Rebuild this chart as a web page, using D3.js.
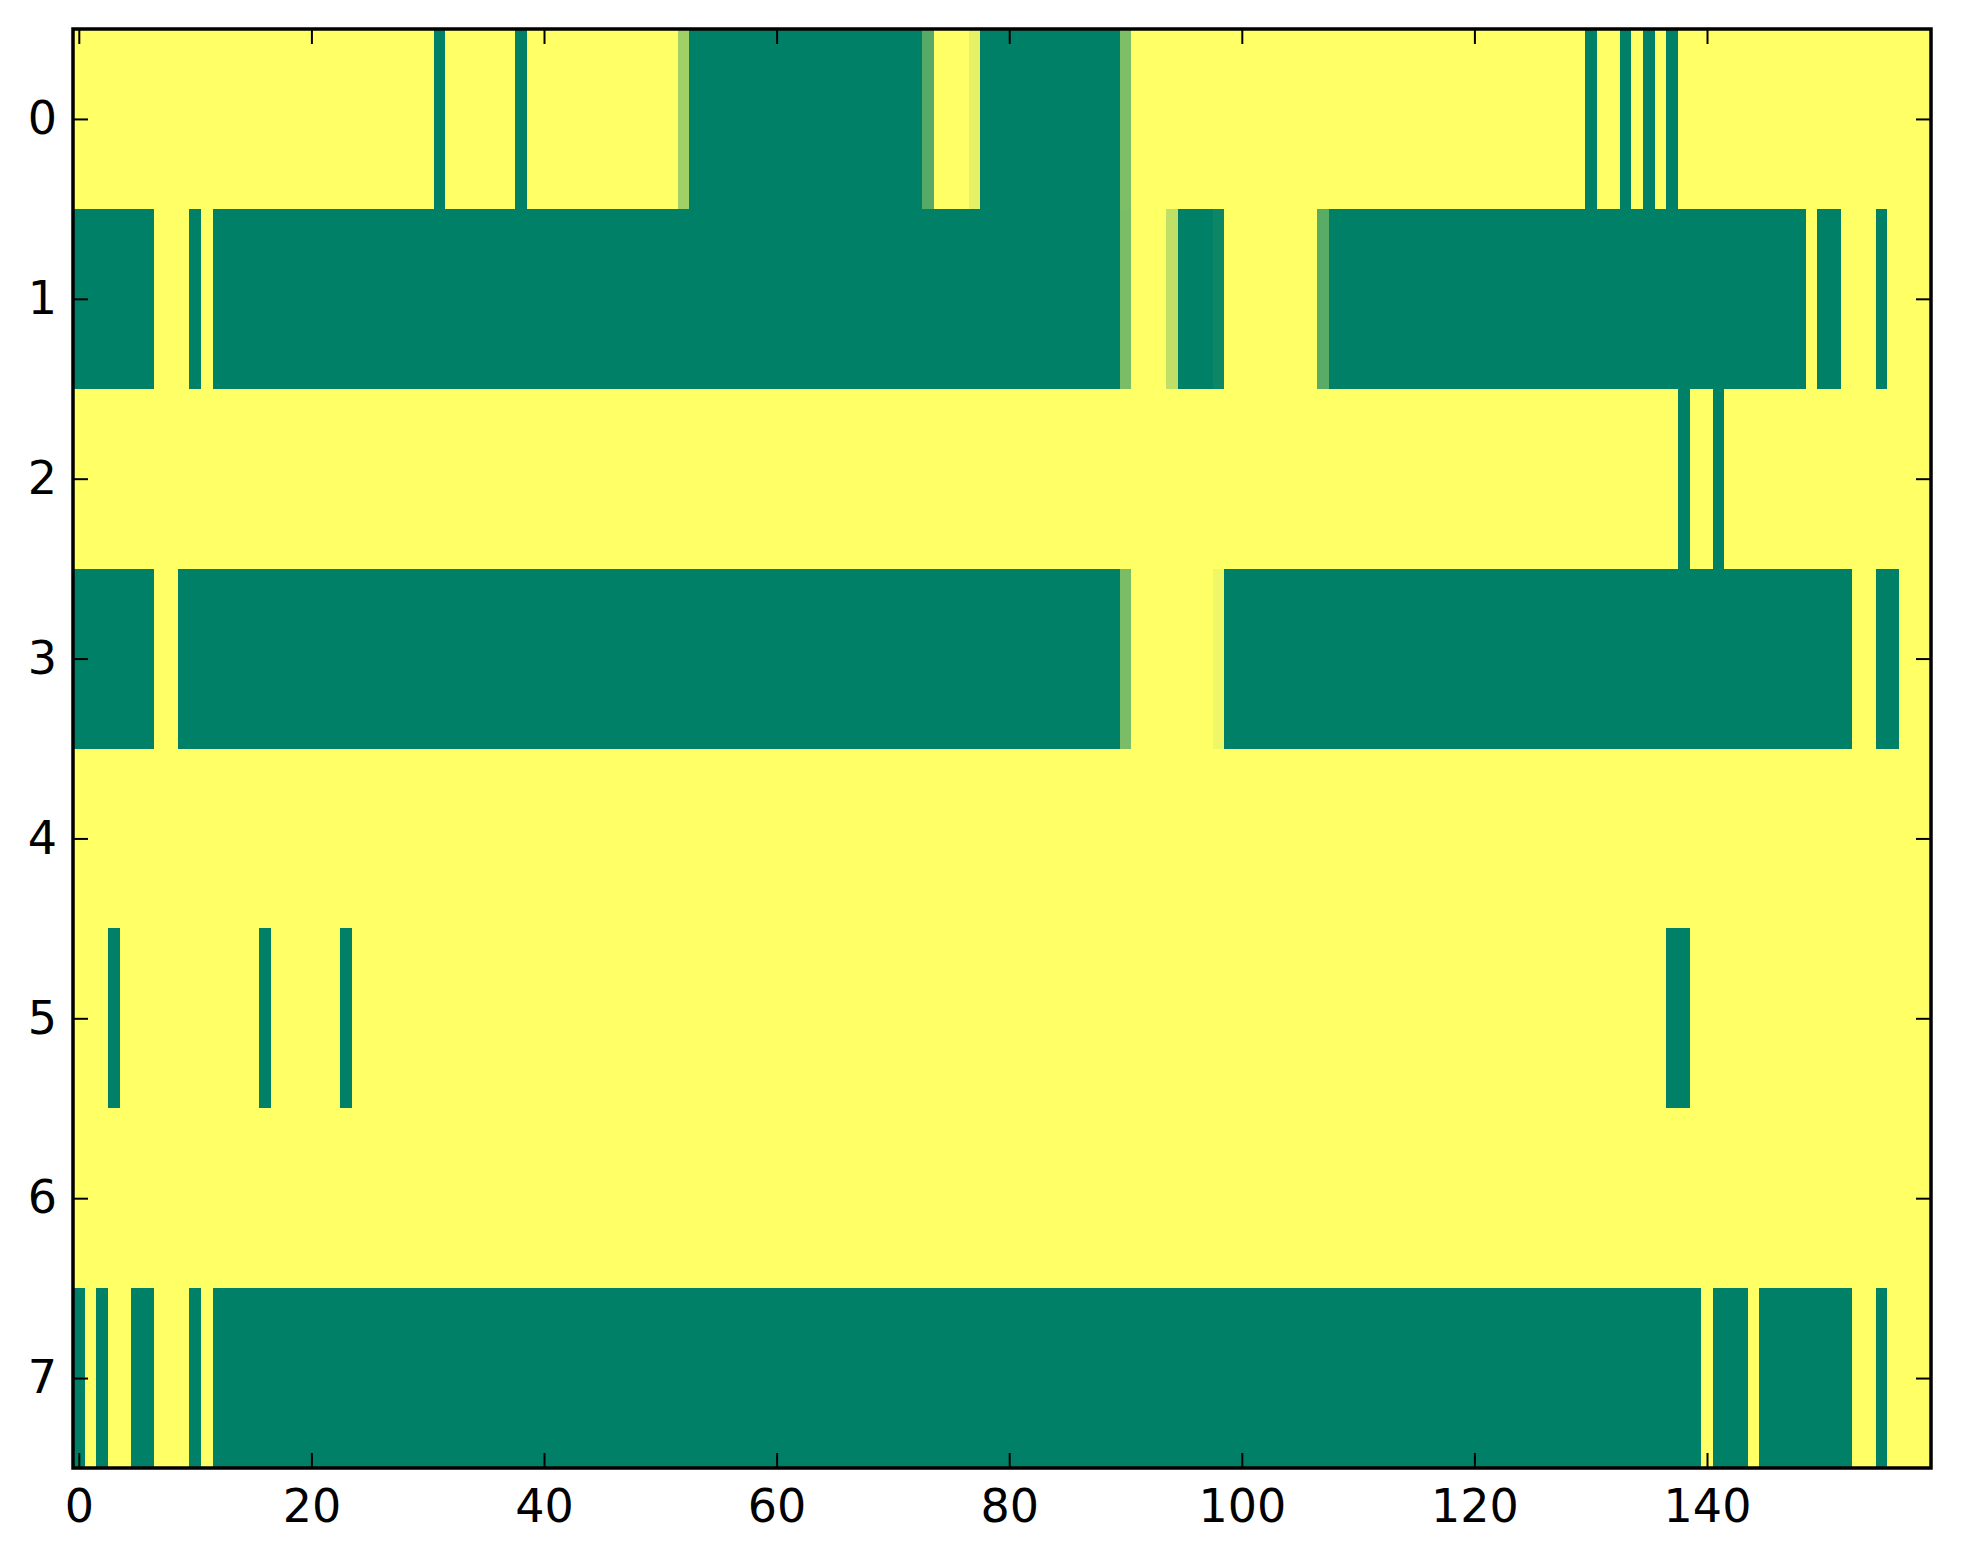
<!DOCTYPE html>
<html>
<head>
<meta charset="utf-8">
<script src="https://cdn.jsdelivr.net/npm/d3@7"></script>
<style>
  html, body { margin: 0; padding: 0; background: #fff; }
  svg { display: block; }
  .tick text { font-family: "DejaVu Sans", sans-serif; }
</style>
</head>
<body>
<svg id="chart" width="1963" height="1564"></svg>
<script>
// ---- Data ----
const rowLabels = [0, 1, 2, 3, 4, 5, 6, 7];
const xTickValues = [0, 20, 40, 60, 80, 100, 120, 140];

const row0 = [
  1,1,1,1,1,1,1,1,1,1,1,1,1,1,1,1,1,1,1,1,
  1,1,1,1,1,1,1,1,1,1,1,0,1,1,1,1,1,1,0,1,
  1,1,1,1,1,1,1,1,1,1,1,1,0.63,0,0,0,0,0,0,0,
  0,0,0,0,0,0,0,0,0,0,0,0,0,0.33,1,1,1,0.9,0,0,
  0,0,0,0,0,0,0,0,0,0,0.49,1,1,1,1,1,1,1,1,1,
  1,1,1,1,1,1,1,1,1,1,1,1,1,1,1,1,1,1,1,1,
  1,1,1,1,1,1,1,1,1,1,0,1,1,0,1,0,1,0,1,1,
  1,1,1,1,1,1,1,1,1,1,1,1,1,1,1,1,1,1,1,1
];
const row1 = [
  0,0,0,0,0,0,0,1,1,1,0,1,0,0,0,0,0,0,0,0,
  0,0,0,0,0,0,0,0,0,0,0,0,0,0,0,0,0,0,0,0,
  0,0,0,0,0,0,0,0,0,0,0,0,0,0,0,0,0,0,0,0,
  0,0,0,0,0,0,0,0,0,0,0,0,0,0,0,0,0,0,0,0,
  0,0,0,0,0,0,0,0,0,0,0.48,1,1,1,0.75,0,0,0,0.05,1,
  1,1,1,1,1,1,1,0.35,0,0,0,0,0,0,0,0,0,0,0,0,
  0,0,0,0,0,0,0,0,0,0,0,0,0,0,0,0,0,0,0,0,
  0,0,0,0,0,0,0,0,0,1,0,0,1,1,1,0,1,1,1,1
];
const row2 = [
  1,1,1,1,1,1,1,1,1,1,1,1,1,1,1,1,1,1,1,1,
  1,1,1,1,1,1,1,1,1,1,1,1,1,1,1,1,1,1,1,1,
  1,1,1,1,1,1,1,1,1,1,1,1,1,1,1,1,1,1,1,1,
  1,1,1,1,1,1,1,1,1,1,1,1,1,1,1,1,1,1,1,1,
  1,1,1,1,1,1,1,1,1,1,1,1,1,1,1,1,1,1,1,1,
  1,1,1,1,1,1,1,1,1,1,1,1,1,1,1,1,1,1,1,1,
  1,1,1,1,1,1,1,1,1,1,1,1,1,1,1,1,1,1,0,1,
  1,0,1,1,1,1,1,1,1,1,1,1,1,1,1,1,1,1,1,1
];
const row3 = [
  0,0,0,0,0,0,0,1,1,0,0,0,0,0,0,0,0,0,0,0,
  0,0,0,0,0,0,0,0,0,0,0,0,0,0,0,0,0,0,0,0,
  0,0,0,0,0,0,0,0,0,0,0,0,0,0,0,0,0,0,0,0,
  0,0,0,0,0,0,0,0,0,0,0,0,0,0,0,0,0,0,0,0,
  0,0,0,0,0,0,0,0,0,0,0.48,1,1,1,1,1,1,1,0.94,0,
  0,0,0,0,0,0,0,0,0,0,0,0,0,0,0,0,0,0,0,0,
  0,0,0,0,0,0,0,0,0,0,0,0,0,0,0,0,0,0,0,0,
  0,0,0,0,0,0,0,0,0,0,0,0,0,1,1,0,0,1,1,1
];
const row4 = [
  1,1,1,1,1,1,1,1,1,1,1,1,1,1,1,1,1,1,1,1,
  1,1,1,1,1,1,1,1,1,1,1,1,1,1,1,1,1,1,1,1,
  1,1,1,1,1,1,1,1,1,1,1,1,1,1,1,1,1,1,1,1,
  1,1,1,1,1,1,1,1,1,1,1,1,1,1,1,1,1,1,1,1,
  1,1,1,1,1,1,1,1,1,1,1,1,1,1,1,1,1,1,1,1,
  1,1,1,1,1,1,1,1,1,1,1,1,1,1,1,1,1,1,1,1,
  1,1,1,1,1,1,1,1,1,1,1,1,1,1,1,1,1,1,1,1,
  1,1,1,1,1,1,1,1,1,1,1,1,1,1,1,1,1,1,1,1
];
const row5 = [
  1,1,1,0,1,1,1,1,1,1,1,1,1,1,1,1,0,1,1,1,
  1,1,1,0,1,1,1,1,1,1,1,1,1,1,1,1,1,1,1,1,
  1,1,1,1,1,1,1,1,1,1,1,1,1,1,1,1,1,1,1,1,
  1,1,1,1,1,1,1,1,1,1,1,1,1,1,1,1,1,1,1,1,
  1,1,1,1,1,1,1,1,1,1,1,1,1,1,1,1,1,1,1,1,
  1,1,1,1,1,1,1,1,1,1,1,1,1,1,1,1,1,1,1,1,
  1,1,1,1,1,1,1,1,1,1,1,1,1,1,1,1,1,0,0,1,
  1,1,1,1,1,1,1,1,1,1,1,1,1,1,1,1,1,1,1,1
];
const row6 = [
  1,1,1,1,1,1,1,1,1,1,1,1,1,1,1,1,1,1,1,1,
  1,1,1,1,1,1,1,1,1,1,1,1,1,1,1,1,1,1,1,1,
  1,1,1,1,1,1,1,1,1,1,1,1,1,1,1,1,1,1,1,1,
  1,1,1,1,1,1,1,1,1,1,1,1,1,1,1,1,1,1,1,1,
  1,1,1,1,1,1,1,1,1,1,1,1,1,1,1,1,1,1,1,1,
  1,1,1,1,1,1,1,1,1,1,1,1,1,1,1,1,1,1,1,1,
  1,1,1,1,1,1,1,1,1,1,1,1,1,1,1,1,1,1,1,1,
  1,1,1,1,1,1,1,1,1,1,1,1,1,1,1,1,1,1,1,1
];
const row7 = [
  0,1,0,1,1,0,0,1,1,1,0,1,0,0,0,0,0,0,0,0,
  0,0,0,0,0,0,0,0,0,0,0,0,0,0,0,0,0,0,0,0,
  0,0,0,0,0,0,0,0,0,0,0,0,0,0,0,0,0,0,0,0,
  0,0,0,0,0,0,0,0,0,0,0,0,0,0,0,0,0,0,0,0,
  0,0,0,0,0,0,0,0,0,0,0,0,0,0,0,0,0,0,0,0,
  0,0,0,0,0,0,0,0,0,0,0,0,0,0,0,0,0,0,0,0,
  0,0,0,0,0,0,0,0,0,0,0,0,0,0,0,0,0,0,0,0,
  1,0,0,0,1,0,0,0,0,0,0,0,0,1,1,0,1,1,1,1
];
const rows = [row0, row1, row2, row3, row4, row5, row6, row7];

// ---- Layout ----
const plot = { left: 73, right: 1931, top: 29, bottom: 1468 };
const nCols = row0.length;
const xMax = 159.26; // visible right limit of the axes (last column partly cut)

const svg = d3.select("#chart");

const x = d3.scaleLinear().domain([-0.5, xMax]).range([plot.left, plot.right]);
const y = d3.scaleLinear().domain([-0.5, rows.length - 0.5]).range([plot.top, plot.bottom]);

// matplotlib "summer" colormap: (0, 0.5, 0.4) -> (1, 1, 0.4)
const color = d3.scaleLinear().domain([0, 1])
  .range(["rgb(0,128,102)", "rgb(255,255,102)"])
  .interpolate(d3.interpolateRgb);

const cells = [];
rows.forEach((r, ri) => r.forEach((v, ci) => cells.push({ r: ri, c: ci, v })));

svg.append("defs").append("clipPath").attr("id", "plotClip")
  .append("rect")
  .attr("x", plot.left).attr("y", plot.top)
  .attr("width", plot.right - plot.left).attr("height", plot.bottom - plot.top);

svg.append("g")
  .attr("clip-path", "url(#plotClip)")
  .attr("shape-rendering", "crispEdges")
  .selectAll("rect")
  .data(cells)
  .join("rect")
  .attr("x", d => x(d.c - 0.5))
  .attr("y", d => y(d.r - 0.5))
  .attr("width", d => x(d.c + 0.5) - x(d.c - 0.5) + 0.6)
  .attr("height", d => y(d.r + 0.5) - y(d.r - 0.5) + 0.6)
  .attr("fill", d => color(d.v));

// ---- Axes (matplotlib classic: ticks inside on all four sides) ----
const tickLen = 15;
const fontSize = 46;

function styleAxis(g) {
  g.select(".domain").remove();
  g.selectAll(".tick line").attr("stroke", "#000").attr("stroke-width", 2);
  g.selectAll(".tick text")
    .attr("fill", "#000")
    .style("font-family", "'DejaVu Sans', sans-serif")
    .style("font-size", fontSize + "px");
}

svg.append("g")
  .attr("transform", `translate(0,${plot.bottom})`)
  .call(d3.axisBottom(x).tickValues(xTickValues).tickFormat(d3.format("d"))
    .tickSizeInner(-tickLen).tickSizeOuter(0).tickPadding(21))
  .call(styleAxis);

svg.append("g")
  .attr("transform", `translate(0,${plot.top})`)
  .call(d3.axisTop(x).tickValues(xTickValues).tickFormat("")
    .tickSizeInner(-tickLen).tickSizeOuter(0))
  .call(styleAxis);

svg.append("g")
  .attr("transform", `translate(${plot.left},0)`)
  .call(d3.axisLeft(y).tickValues(rowLabels).tickFormat(d3.format("d"))
    .tickSizeInner(-tickLen).tickSizeOuter(0).tickPadding(16))
  .call(styleAxis);

svg.append("g")
  .attr("transform", `translate(${plot.right},0)`)
  .call(d3.axisRight(y).tickValues(rowLabels).tickFormat("")
    .tickSizeInner(-tickLen).tickSizeOuter(0))
  .call(styleAxis);

// frame
svg.append("rect")
  .attr("x", plot.left)
  .attr("y", plot.top)
  .attr("width", plot.right - plot.left)
  .attr("height", plot.bottom - plot.top)
  .attr("fill", "none")
  .attr("stroke", "#000")
  .attr("stroke-width", 3.5);
</script>
</body>
</html>
